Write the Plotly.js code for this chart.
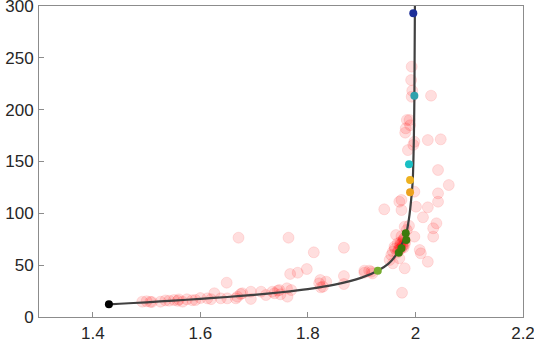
<!DOCTYPE html>
<html>
<head>
<meta charset="utf-8">
<script src="https://cdn.plot.ly/plotly-3.0.1.min.js"></script>
<style>
  html, body { margin: 0; padding: 0; background: #fff; }
  #chart { width: 534px; height: 343px; }
</style>
</head>
<body>
<div id="chart"></div>
<script>
// scattered samples (red, translucent)
const sampleX = [
  1.993, 1.992, 1.994, 1.993, 2.029, 1.984, 1.989, 1.982, 1.981, 1.990,
  1.998, 1.996, 2.023, 2.047, 1.986, 2.042, 2.062, 1.998, 2.042, 2.042,
  1.974, 1.970, 2.023, 1.942, 1.974, 2.001, 2.014, 2.039, 2.033, 2.033,
  1.980, 1.998, 2.008, 2.010, 2.023, 1.980, 1.975, 1.964, 1.967, 1.961,
  1.958, 1.955, 1.952, 1.958, 1.970, 1.918, 1.905, 1.972, 1.976, 1.978,
  1.970, 1.974, 1.980, 1.966, 1.962, 1.984, 1.988,
  1.971, 1.975, 1.977, 1.979, 1.973, 1.968, 1.981, 1.976, 1.972, 1.978,
  1.492, 1.500, 1.507, 1.526, 1.542, 1.551, 1.558, 1.567, 1.575, 1.591,
  1.613, 1.620, 1.626, 1.638, 1.650, 1.649, 1.669, 1.678, 1.694, 1.713,
  1.722, 1.734, 1.747, 1.666, 1.675, 1.694, 1.738, 1.744, 1.749, 1.761,
  1.762, 1.769, 1.671, 1.764, 1.811, 1.867, 1.798, 1.781, 1.767, 1.823,
  1.834, 1.824, 1.867, 1.867, 1.905, 1.914, 1.821, 1.828, 1.920, 1.510,
  1.535, 1.560, 1.585, 1.600
];
const sampleY = [
  241.5, 228.6, 218.3, 212.5, 213.5, 190.0, 190.0, 182.0, 177.8, 185.0,
  169.0, 166.0, 170.7, 171.4, 161.0, 141.8, 127.3, 120.9, 119.3, 111.2,
  112.9, 111.2, 105.8, 103.9, 103.2, 106.4, 96.2, 90.4, 85.6, 77.5,
  87.1, 77.5, 64.6, 61.4, 53.3, 47.0, 23.4, 79.1, 71.1, 67.8,
  63.0, 59.8, 55.0, 51.8, 56.6, 43.7, 44.7, 72.0, 68.0, 75.0,
  65.0, 78.0, 70.0, 62.0, 66.0, 84.0, 88.0,
  68.5, 71.0, 73.5, 76.0, 66.0, 64.5, 72.5, 69.0, 70.0, 67.0,
  14.8, 15.2, 14.6, 14.8, 15.7, 16.4, 15.6, 14.8, 17.1, 16.4,
  18.0, 17.2, 22.9, 18.0, 18.0, 33.1, 19.6, 22.9, 24.4, 24.4,
  21.2, 24.4, 26.0, 18.0, 22.2, 17.4, 22.9, 25.4, 21.9, 27.7,
  19.6, 26.0, 76.5, 76.5, 62.4, 66.8, 46.3, 42.7, 41.5, 35.7,
  34.1, 28.6, 39.5, 31.8, 42.7, 44.7, 32.5, 29.2, 42.0, 14.5,
  16.0, 17.0, 16.2, 18.3
];

// fitted curve
const curveX = [1.430, 1.45, 1.50, 1.55, 1.60, 1.65, 1.70, 1.75, 1.80, 1.85,
  1.90, 1.93, 1.95, 1.962, 1.974, 1.983, 1.988, 1.992, 1.995, 1.997, 1.998, 1.999];
const curveY = [12.2, 12.8, 14.2, 15.8, 17.5, 19.3, 21.4, 23.9, 26.9, 31.2,
  38.0, 44.7, 51.5, 58.5, 69.5, 80.7, 95.0, 113.0, 132.0, 170.0, 210.0, 300.0];

// highlighted points
const markX = [1.430, 1.930, 1.969, 1.974, 1.983, 1.982, 1.990, 1.990, 1.988, 1.998, 1.996];
const markY = [12.2, 44.7, 62.0, 66.3, 74.3, 80.7, 120.3, 132.2, 147.3, 213.5, 292.9];
const markColors = ['#000000', '#77ac30', '#3d7a0c', '#3d7a0c', '#3d7a0c', '#3d7a0c',
  '#eba11f', '#edb120', '#19bfc4', '#2fa2ac', '#1d2f99'];

const traces = [
  {
    x: sampleX, y: sampleY,
    mode: 'markers', type: 'scatter',
    marker: { size: 11, color: 'rgba(255,0,0,0.13)', line: { width: 1, color: 'rgba(255,0,0,0.10)' } },
    hoverinfo: 'skip',
  },
  {
    x: curveX, y: curveY,
    mode: 'lines', type: 'scatter',
    line: { color: '#404040', width: 2.2, shape: 'spline', smoothing: 0.6 },
  },
  {
    x: markX, y: markY,
    mode: 'markers', type: 'scatter',
    marker: { size: 8, color: markColors },
  },
];

const axisStyle = {
  showline: true, mirror: true, linecolor: '#8c8c8c', linewidth: 1,
  ticks: 'inside', ticklen: 5, tickcolor: '#8c8c8c',
  showgrid: false, zeroline: false, ticklabeloverflow: 'allow',
  tickfont: { family: 'Liberation Sans, Arial, sans-serif', size: 17, color: '#262626' },
};

const layout = {
  width: 534, height: 343,
  margin: { t: 6, r: 11, b: 26, l: 39 },
  showlegend: false,
  paper_bgcolor: '#fff', plot_bgcolor: '#fff',
  xaxis: Object.assign({}, axisStyle, { range: [1.3, 2.2], tickvals: [1.4, 1.6, 1.8, 2, 2.2], ticktext: ['1.4', '1.6', '1.8', '2', '2.2'], ticklabelstandoff: 1 }),
  yaxis: Object.assign({}, axisStyle, { range: [0, 300], tickvals: [0, 50, 100, 150, 200, 250, 300], ticklabelstandoff: 1 }),
};

Plotly.newPlot('chart', traces, layout, { staticPlot: true });
</script>
</body>
</html>
